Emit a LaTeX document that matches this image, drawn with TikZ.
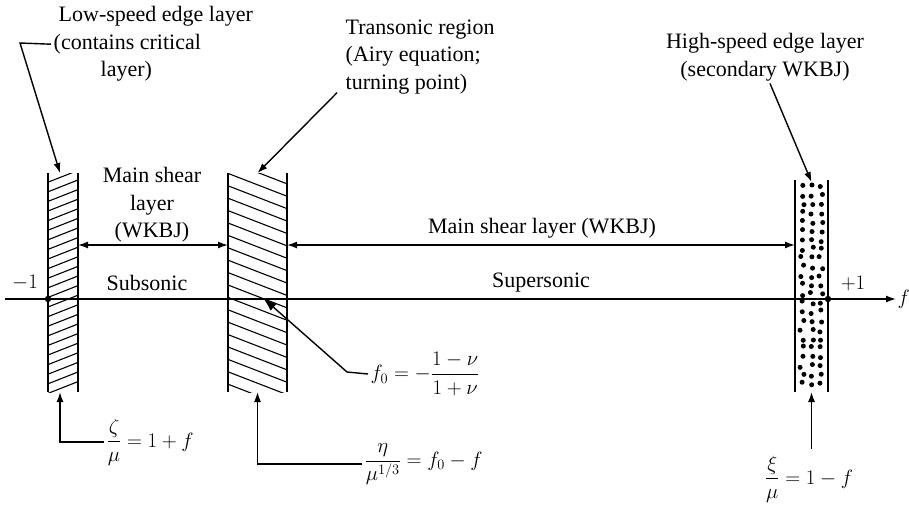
\documentclass[tikz,border=0pt]{standalone}
\usepackage{amsmath}
\usepackage{fontspec}
\setmainfont{Liberation Serif}
\usetikzlibrary{arrows.meta,calc}

\begin{document}
\begin{tikzpicture}[x=1pt,y=-1pt,line width=1.4pt,
  every node/.style={font=\fontsize{22}{27.5}\selectfont,inner sep=2pt},
  arr/.style={-{Latex[length=10pt,width=7pt]}},
  dbl/.style={{Latex[length=10pt,width=7pt]}-{Latex[length=10pt,width=7pt]}},
  stripbox/.style={fill=white,inner sep=0pt,outer sep=0pt},
  hatchup/.style={path picture={\foreach \k in {0,...,23}{\draw[line width=1.1pt] ($(path picture bounding box.north west)+(-1,\k*9.6)$) -- ++(33,-13);}}},
  hatchdown/.style={path picture={\foreach \k in {-2,...,18}{\draw[line width=1.1pt] ($(path picture bounding box.north west)+(-1,\k*12.4)$) -- ++(62,24);}}},
  speckle/.style={path picture={\pgfmathsetseed{11}\foreach \row in {0,...,22}{\foreach \col in {0,1,2}{\fill[black] ($(path picture bounding box.north west)+(7+\col*9.5+2*rand,6+\row*9+2*rand)$) circle (2.5);}}}}]
\useasboundingbox (0,0) rectangle (909,506);
% strips
\node[stripbox,hatchup,minimum width=30pt,minimum height=219pt] (lowstrip) at (63,282.5) {};
\node[stripbox,hatchdown,minimum width=59pt,minimum height=219pt] (midstrip) at (257.5,282.5) {};
\node[stripbox,speckle,minimum width=33pt,minimum height=212pt] (highstrip) at (811.5,286) {};
\draw (lowstrip.north west) -- (lowstrip.south west) (lowstrip.north east) -- (lowstrip.south east);
\draw (midstrip.north west) -- (midstrip.south west) (midstrip.north east) -- (midstrip.south east);
\draw (highstrip.north west) -- (highstrip.south west) (highstrip.north east) -- (highstrip.south east);
% axis
\coordinate (axstart) at (5,299);
\coordinate (axend) at (896,299);
\draw[arr] (axstart) -- (axend);
\node[anchor=west,inner sep=1pt] (flbl) at (axend) {$f$};
\coordinate (minusone) at (lowstrip.west |- axstart);
\coordinate (plusone) at (highstrip.east |- axstart);
\fill (minusone) circle (3.2);
\fill (plusone) circle (3.2);
\node (mlbl) at (25,283) {$-1$};
\node (plbl) at (853,283) {$+1$};
\node (sublbl) at (147,283) {Subsonic};
\node (suplbl) at (541,283) {Supersonic};
% main shear layers
\coordinate (shear) at (0,245);
\draw[dbl] (lowstrip.east |- shear) -- (midstrip.west |- shear);
\draw[dbl] (midstrip.east |- shear) -- (highstrip.west |- shear);
\node[align=center] (shearlbl) at (152,205) {Main shear\\layer\\(WKBJ)};
\node (shearlbr) at (542,228) {Main shear layer (WKBJ)};
% upper labels
\node[align=left,anchor=north west,inner sep=0pt] (lowlbl) at (53,6) {\hspace*{5pt}Low-speed edge layer\\(contains critical\\\hspace*{47pt}layer)};
\coordinate (lowbend) at (20,43);
\draw[arr] ([xshift=-2pt]lowlbl.west) -- (lowbend) -- ([xshift=-3pt]lowstrip.north);
\node[align=left,anchor=north west,inner sep=0pt] (translbl) at (345,19) {Transonic region\\(Airy equation;\\turning point)};
\draw[arr] ([xshift=-8pt,yshift=2pt]translbl.south west) -- (midstrip.north);
\node[align=center] (highlbl) at (765,57) {High-speed edge layer\\(secondary WKBJ)};
\draw[arr] ([xshift=5pt]highlbl.south) -- ([yshift=-2pt]highstrip.north);
% lower labels
\node[anchor=west] (zetalbl) at (104,442) {$\dfrac{\zeta}{\mu}=1+f$};
\draw[arr] (zetalbl.west) -| ([xshift=-3pt]lowstrip.south);
\node[anchor=west] (etalbl) at (362,464) {$\dfrac{\eta}{\mu^{1/3}}=f_0-f$};
\draw[arr] (etalbl.west) -| (midstrip.south);
\node[anchor=west] (f0lbl) at (368,374) {$f_0=-\dfrac{1-\nu}{1+\nu}$};
\coordinate (f0bend) at (347,372);
\coordinate (f0pt) at (263,298);
\draw[-{Latex[length=14pt,width=9pt]}] (f0lbl.west) -- (f0bend) -- (f0pt);
\node[inner sep=0pt] (xilbl) at (809,479) {$\dfrac{\xi}{\mu}=1-f$};
\draw[arr] ([yshift=6pt]xilbl.north -| highstrip.south) -- (highstrip.south);
\end{tikzpicture}
\end{document}
